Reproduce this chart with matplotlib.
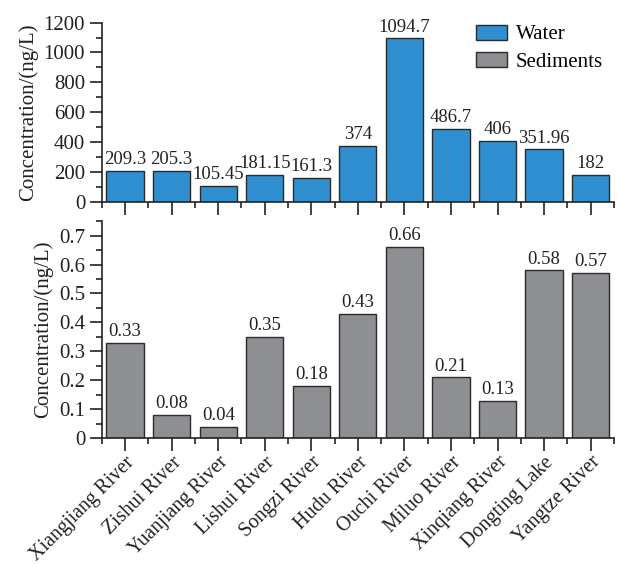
import matplotlib
matplotlib.use("Agg")
import matplotlib.pyplot as plt
from matplotlib.patches import Patch
from matplotlib.ticker import MultipleLocator
import numpy as np

plt.rcParams['font.family'] = ['Liberation Serif', 'DejaVu Serif']

categories = ["Xiangjiang River", "Zishui River", "Yuanjiang River", "Lishui River",
              "Songzi River", "Hudu River", "Ouchi River", "Miluo River",
              "Xinqiang River", "Dongting Lake", "Yangtze River"]
water = [209.3, 205.3, 105.45, 181.15, 161.3, 374, 1094.7, 486.7, 406, 351.96, 182]
water_labels = ["209.3", "205.3", "105.45", "181.15", "161.3", "374", "1094.7",
                "486.7", "406", "351.96", "182"]
sediments = [0.33, 0.08, 0.04, 0.35, 0.18, 0.43, 0.66, 0.21, 0.13, 0.58, 0.57]
sed_labels = ["0.33", "0.08", "0.04", "0.35", "0.18", "0.43", "0.66", "0.21",
              "0.13", "0.58", "0.57"]
sed_ticklabels = ["0", "0.1", "0.2", "0.3", "0.4", "0.5", "0.6", "0.7"]

blue = "#2f8fd1"
gray = "#8e8f93"
edge = "#2a2a2a"
txt = "#222222"

fig = plt.figure(figsize=(6.17, 5.64), dpi=100)
ax1 = fig.add_axes([0.165, 0.642, 0.830, 0.318])
ax2 = fig.add_axes([0.165, 0.223, 0.830, 0.385])

x = np.arange(len(categories))
b1 = ax1.bar(x, water, width=0.8, color=blue, edgecolor=edge, linewidth=1.0)
b2 = ax2.bar(x, sediments, width=0.8, color=gray, edgecolor=edge, linewidth=1.0)

for bars, labs, ax in ((b1, water_labels, ax1), (b2, sed_labels, ax2)):
    for r, t in zip(bars, labs):
        ax.annotate(t, (r.get_x() + r.get_width() / 2, r.get_height()),
                    xytext=(0, 2), textcoords="offset points",
                    ha="center", va="bottom", fontsize=13.5, color=txt)

ax1.set_ylim(0, 1200)
ax1.yaxis.set_major_locator(MultipleLocator(200))
ax1.yaxis.set_minor_locator(MultipleLocator(100))

ax2.set_ylim(0, 0.75)
ax2.set_yticks(np.arange(0, 0.71, 0.1))
ax2.set_yticklabels(sed_ticklabels)
ax2.yaxis.set_minor_locator(MultipleLocator(0.05))

for ax in (ax1, ax2):
    ax.set_xlim(-0.5, len(categories) - 0.5)
    ax.spines['top'].set_visible(False)
    ax.spines['right'].set_visible(False)
    for s in ('left', 'bottom'):
        ax.spines[s].set_linewidth(1.2)
        ax.spines[s].set_color(txt)
    ax.set_xticks(x)
    ax.set_xticks(np.arange(-0.5, len(categories) - 0.4, 1.0), minor=True)
    ax.set_ylabel("Concentration/(ng/L)", fontsize=15, color=txt, labelpad=4)

ax1.set_xticklabels([])
ax2.set_xticklabels(categories, rotation=45, ha="right", rotation_mode="anchor")

for ax in (ax1, ax2):
    ax.tick_params(axis='both', which='major', direction='out', length=9, width=1.2,
                   labelsize=15, colors=txt, pad=3)
    ax.tick_params(axis='both', which='minor', direction='out', length=4.5, width=1.2,
                   colors=txt)
ax2.tick_params(axis='x', which='major', pad=1.5, labelsize=14.5)

handles = [Patch(facecolor=blue, edgecolor=edge, linewidth=1.0, label="Water"),
           Patch(facecolor=gray, edgecolor=edge, linewidth=1.0, label="Sediments")]
ax1.legend(handles=handles, loc="upper left", bbox_to_anchor=(0.703, 1.07),
           frameon=False, fontsize=15, handlelength=1.45, handleheight=0.75,
           handletextpad=0.45, labelspacing=0.35, borderpad=0.2)

fig.savefig("out.png", dpi=100)
